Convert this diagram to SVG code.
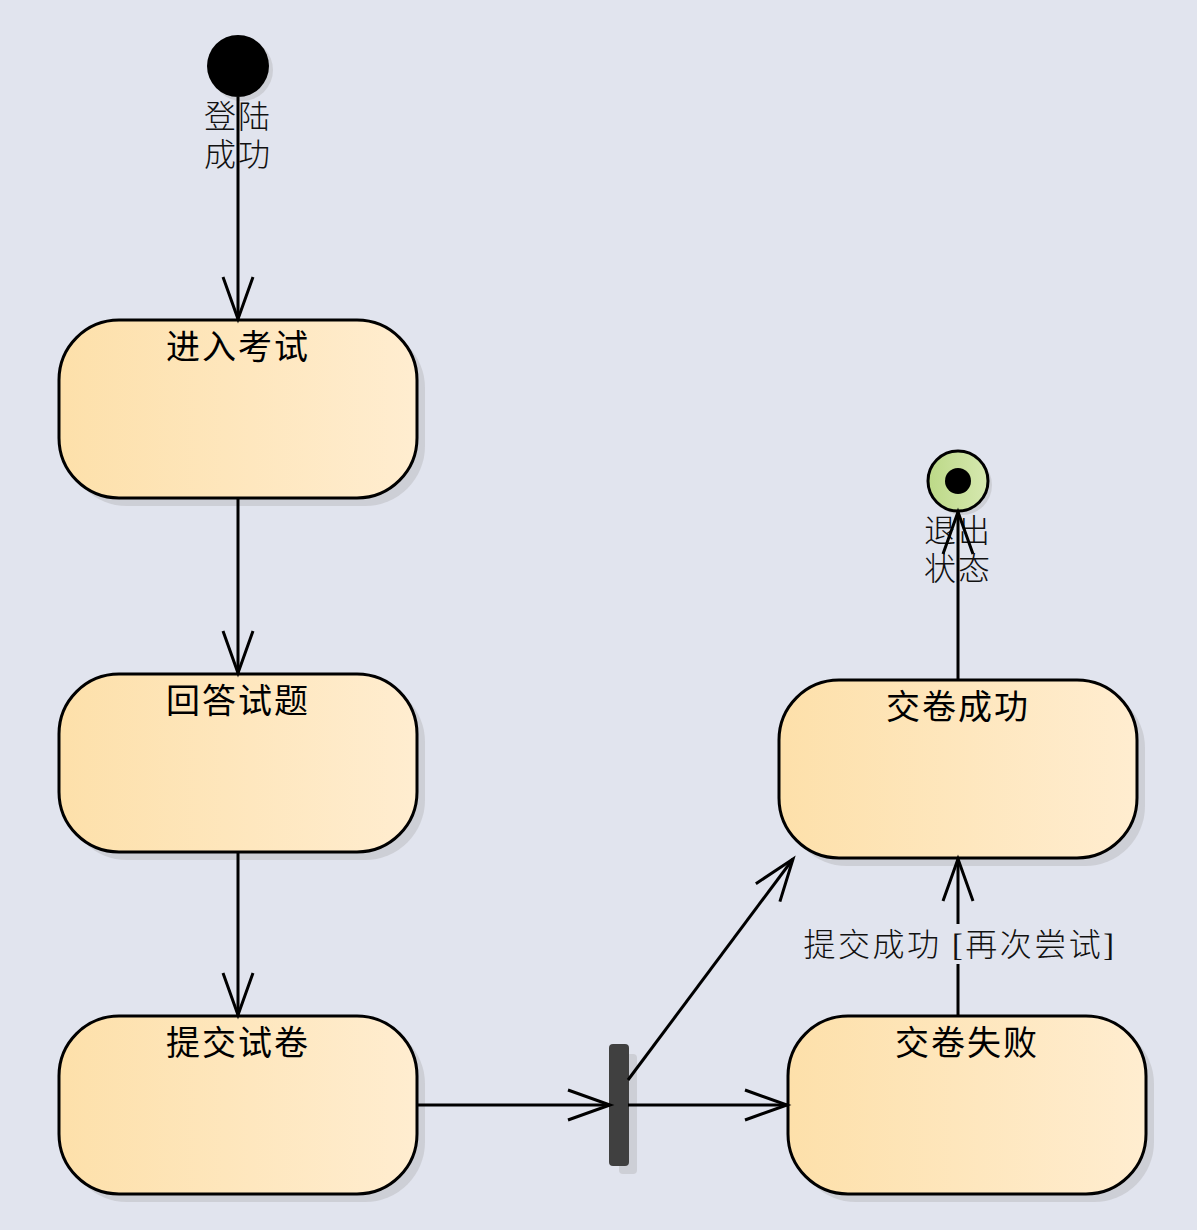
<svg xmlns="http://www.w3.org/2000/svg" width="1197" height="1230" viewBox="0 0 1197 1230">
<style>
.bg{fill:#e1e4ee}
.state{stroke:#000;stroke-width:3;fill:url(#sg)}
.shadow{fill:#c8c9d0;opacity:0.8}
.title{font-family:"Liberation Serif","Noto Sans CJK SC",serif;font-size:34px;fill:#000;text-anchor:middle;letter-spacing:2px}
.lbl{font-family:"Liberation Serif","Noto Sans CJK SC",serif;font-size:32px;fill:#111;text-anchor:middle;font-weight:300;letter-spacing:2px}
.elbl{letter-spacing:2.5px}
.edge{stroke:#000;stroke-width:3;fill:none;marker-end:url(#arr)}
</style>
<defs>
<linearGradient id="sg" x1="0" y1="0" x2="1" y2="0">
<stop offset="0" stop-color="#fde0aa"/>
<stop offset="1" stop-color="#ffedd0"/>
</linearGradient>
<linearGradient id="fg" x1="0" y1="0" x2="1" y2="0">
<stop offset="0" stop-color="#bcd987"/>
<stop offset="1" stop-color="#d6e8b0"/>
</linearGradient>
<marker id="arr" markerUnits="userSpaceOnUse" markerWidth="50" markerHeight="40" refX="42" refY="16" orient="auto" overflow="visible">
<path d="M0,1 L42,16 L0,31" fill="none" stroke="#000" stroke-width="3"/>
</marker>
</defs>
<rect class="bg" x="0" y="0" width="1197" height="1230"/>
<g id="start">
<circle cx="242" cy="70" r="31" fill="#c8c9d0" opacity="0.8"/>
<circle cx="238" cy="66" r="31" fill="#000"/>
<text class="lbl" x="238" y="128">登陆</text>
<text class="lbl" x="238" y="166">成功</text>
</g>
<g id="s1">
<rect class="shadow" x="67" y="328" width="358" height="178" rx="60"/>
<rect class="state" x="59" y="320" width="358" height="178" rx="60"/>
<text class="title" x="238" y="359">进入考试</text>
</g>
<g id="s2">
<rect class="shadow" x="67" y="682" width="358" height="178" rx="60"/>
<rect class="state" x="59" y="674" width="358" height="178" rx="60"/>
<text class="title" x="238" y="713">回答试题</text>
</g>
<g id="s3">
<rect class="shadow" x="67" y="1024" width="358" height="178" rx="60"/>
<rect class="state" x="59" y="1016" width="358" height="178" rx="60"/>
<text class="title" x="238" y="1055">提交试卷</text>
</g>
<g id="s4">
<rect class="shadow" x="787" y="688" width="358" height="178" rx="60"/>
<rect class="state" x="779" y="680" width="358" height="178" rx="60"/>
<text class="title" x="958" y="719">交卷成功</text>
</g>
<g id="s5">
<rect class="shadow" x="796" y="1024" width="358" height="178" rx="60"/>
<rect class="state" x="788" y="1016" width="358" height="178" rx="60"/>
<text class="title" x="967" y="1055">交卷失败</text>
</g>
<g id="fork">
<rect x="619" y="1054" width="18" height="120" rx="4" fill="#c8c9d0" opacity="0.8"/>
<rect x="609" y="1044" width="20" height="122" rx="4" fill="#404040"/>
</g>
<g id="end">
<circle cx="962" cy="485" r="30" fill="#c8c9d0" opacity="0.8"/>
<circle cx="958" cy="481" r="30" fill="url(#fg)" stroke="#000" stroke-width="3"/>
<circle cx="958" cy="481" r="13" fill="#000"/>
<text class="lbl" x="958" y="542">退出</text>
<text class="lbl" x="958" y="580">状态</text>
</g>
<g id="connectors">
<line class="edge" x1="238" y1="97" x2="238" y2="319"/>
<line class="edge" x1="238" y1="498" x2="238" y2="673"/>
<line class="edge" x1="238" y1="852" x2="238" y2="1015"/>
<line class="edge" x1="417" y1="1105" x2="610" y2="1105"/>
<line class="edge" x1="628" y1="1105" x2="787" y2="1105"/>
<line class="edge" x1="628" y1="1080" x2="793" y2="859"/>
<line class="edge" x1="958" y1="1016" x2="958" y2="859"/>
<line class="edge" x1="958" y1="680" x2="958" y2="512"/>
<rect class="bg" x="956" y="924" width="6" height="40"/>
<text class="lbl elbl" x="960" y="956">提交成功 [再次尝试]</text>
</g>
</svg>
